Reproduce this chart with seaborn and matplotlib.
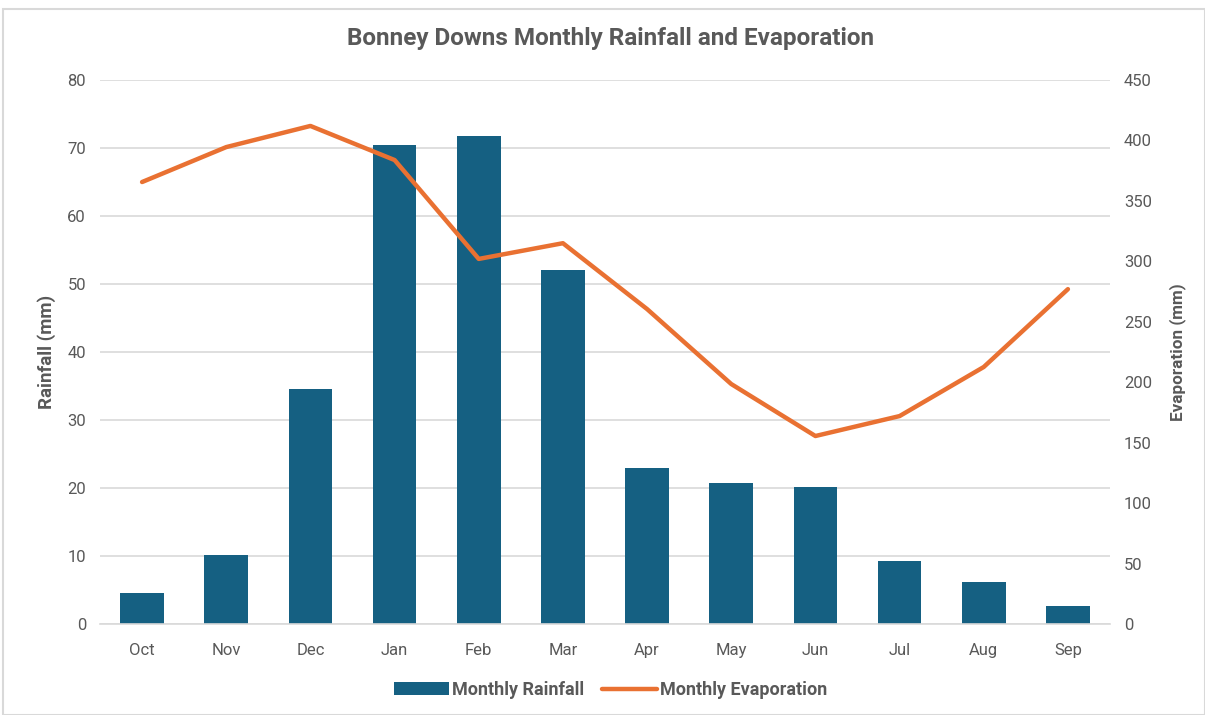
import matplotlib
matplotlib.use("Agg")
import matplotlib.pyplot as plt
import seaborn as sns
import pandas as pd
from matplotlib.patches import Patch, Rectangle
from matplotlib.lines import Line2D

months = ["Oct", "Nov", "Dec", "Jan", "Feb", "Mar", "Apr", "May", "Jun", "Jul", "Aug", "Sep"]
rainfall = [4.6, 10.1, 34.6, 70.4, 71.8, 52.1, 22.9, 20.7, 20.1, 9.3, 6.2, 2.6]
evaporation = [365.6, 394.5, 412.0, 383.8, 302.0, 315.0, 260.5, 198.5, 155.5, 172.0, 212.6, 277.0]

BLUE = "#156082"
ORANGE = "#E97132"
GREY = "#595959"

sns.set_theme(style="white")
plt.rcParams["font.family"] = ["Roboto", "DejaVu Sans"]

df = pd.DataFrame({"Month": months, "Rainfall": rainfall, "Evaporation": evaporation})

fig = plt.figure(figsize=(12.05, 7.15), dpi=100)
ax = fig.add_axes([100 / 1205, 1 - 624 / 715, 1010 / 1205, 544 / 715])

sns.barplot(data=df, x="Month", y="Rainfall", color=BLUE, width=0.52, ax=ax,
            saturation=1, edgecolor="none", zorder=2)
ax.set_ylim(0, 80)
ax.set_yticks(range(0, 81, 10))
ax.set_xlim(-0.5, 11.5)
ax.grid(axis="y", color="#D9D9D9", linewidth=1.2, zorder=0)
ax.set_axisbelow(True)
for s in ["top", "right", "left"]:
    ax.spines[s].set_visible(False)
ax.spines["bottom"].set_color("#D9D9D9")
ax.spines["bottom"].set_linewidth(1.2)
ax.tick_params(axis="y", colors=GREY, labelsize=12, length=0, pad=10)
ax.tick_params(axis="x", colors=GREY, labelsize=12, length=0, pad=14)
ax.set_xlabel("")
ax.set_ylabel("Rainfall (mm)", fontsize=13.5, fontweight="bold", color=GREY, labelpad=8)

ax2 = ax.twinx()
sns.lineplot(data=df, x="Month", y="Evaporation", sort=False, color=ORANGE,
             linewidth=3.2, ax=ax2, zorder=3)
ax2.set_ylim(0, 450)
ax2.set_yticks(range(0, 451, 50))
for s in ["top", "right", "left", "bottom"]:
    ax2.spines[s].set_visible(False)
ax2.tick_params(axis="y", colors=GREY, labelsize=12, length=0, pad=10)
ax2.set_ylabel("Evaporation (mm)", fontsize=12.3, fontweight="bold", color=GREY, labelpad=12)
ax2.set_xlim(-0.5, 11.5)

fig.suptitle("Bonney Downs Monthly Rainfall and Evaporation", x=0.5065, y=1 - 39 / 715,
             fontsize=17.5, fontweight="bold", color=GREY, va="center")

handles = [Patch(facecolor=BLUE, edgecolor="none"),
           Line2D([0], [0], color=ORANGE, linewidth=3.2)]
leg = fig.legend(handles, ["Monthly Rainfall", "Monthly Evaporation"], loc="center",
                 bbox_to_anchor=(0.507, 1 - 690 / 715), ncol=2, frameon=False,
                 prop={"size": 13, "weight": "bold"}, handlelength=3.0, columnspacing=1.0,
                 handletextpad=0.2)
for t in leg.get_texts():
    t.set_color(GREY)

fig.patches.append(Rectangle((3 / 1205, 0), 1 - 3 / 1205, 1 - 9 / 715, transform=fig.transFigure,
                             fill=False, edgecolor="#D9D9D9", linewidth=1.5))

fig.savefig("out.png", dpi=100)
